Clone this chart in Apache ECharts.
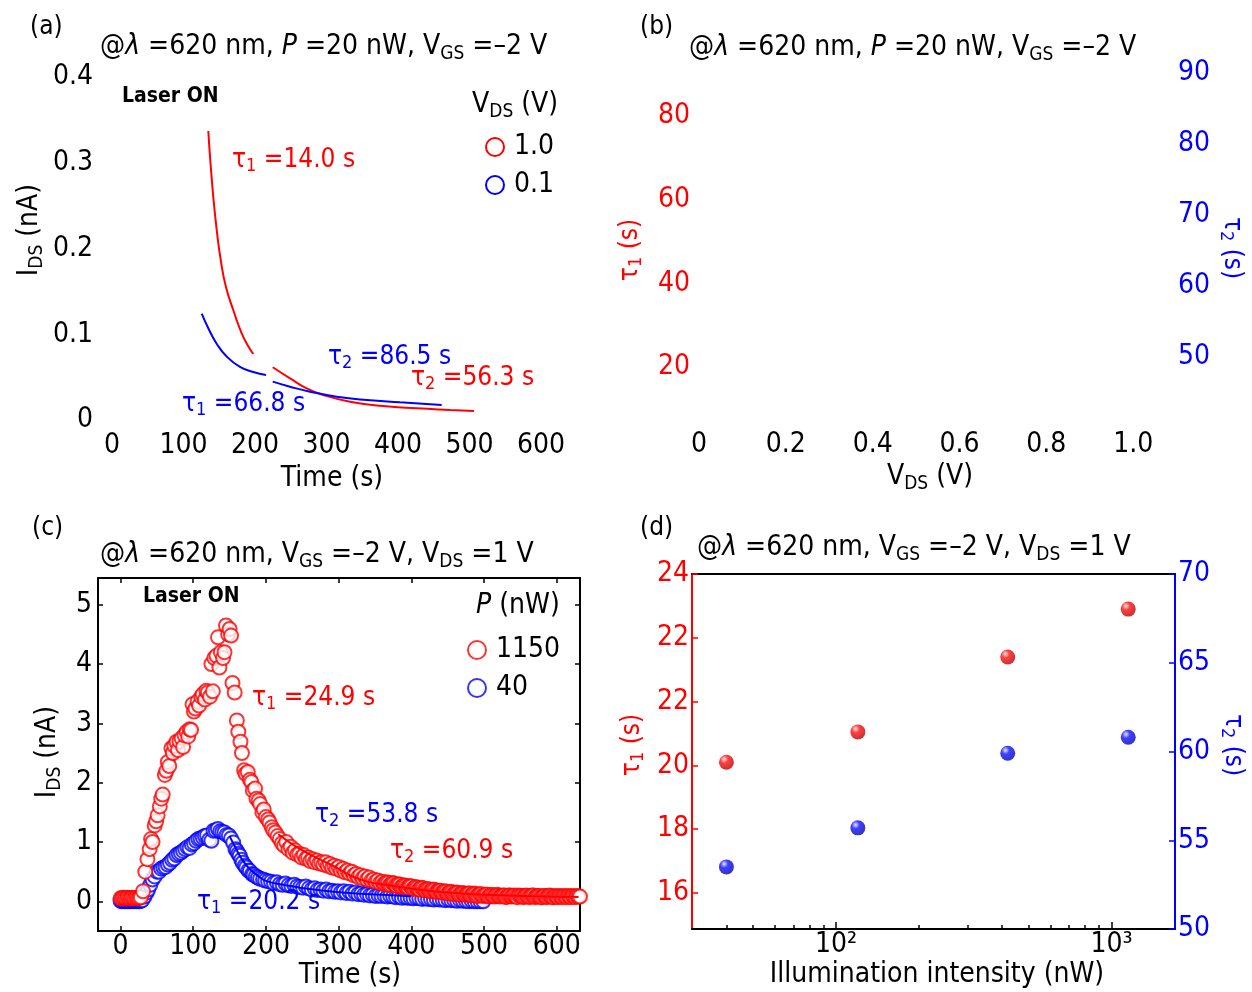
<!DOCTYPE html>
<html>
<head>
<meta charset="utf-8">
<script src="https://cdn.jsdelivr.net/npm/echarts@6/dist/echarts.min.js"></script>
<style>
  html, body { margin: 0; padding: 0; background: #fff; }
  #main { width: 1252px; height: 992px; }
</style>
</head>
<body>
<div id="main"></div>
<script>
// ---- (a) decay fits, I_DS vs time ----
var aRedFastT = [134.7, 137.1, 141.7, 146.4, 152.0, 159.4, 169.7, 181.4, 190.6, 197.6];
var aRedFastI = [0.337, 0.307, 0.260, 0.222, 0.187, 0.155, 0.128, 0.101, 0.086, 0.077];
var aRedSlowT = [224.8, 249.0, 272.3, 295.5, 332.9, 379.4, 426.2, 472.7, 506.3];
var aRedSlowI = [0.0615, 0.0486, 0.0369, 0.0292, 0.0213, 0.0163, 0.0136, 0.0117, 0.0105];
var aBlueFastT = [125.5, 134.7, 146.4, 160.4, 179.0, 197.6, 215.4];
var aBlueFastI = [0.124, 0.107, 0.089, 0.074, 0.062, 0.056, 0.0525];
var aBlueSlowT = [224.8, 249.0, 276.9, 314.3, 356.2, 402.8, 461.1];
var aBlueSlowI = [0.0447, 0.0388, 0.0330, 0.0272, 0.0233, 0.0206, 0.0175];

// ---- (b) empty tau vs V_DS frame ----
var bXTicks = [0, 0.2, 0.4, 0.6, 0.8, 1.0];
var bTau1Ticks = [20, 40, 60, 80];
var bTau2Ticks = [50, 60, 70, 80, 90];

// ---- (c) transient photocurrent, [time s, I_DS nA] ----
var cRed1150 = [
  [0,0.05],[2,0.05],[4,0.06],[6,0.05],[8,0.05],[10,0.06],[12,0.05],[14,0.05],[16,0.06],[18,0.05],
  [20,0.05],[22,0.06],[24,0.05],[26,0.06],[28,0.07],[31,0.17],[34,0.5],[37,0.71],[40,0.88],[42,1.05],
  [44,1.0],[47,1.28],[49,1.35],[51,1.45],[54,1.6],[56,1.73],[58,1.8],[61,2.13],[63,2.2],[65,2.35],
  [67,2.28],[70,2.58],[72,2.5],[74,2.62],[77,2.69],[79,2.55],[81,2.7],[84,2.75],[86,2.6],[88,2.8],
  [91,2.86],[93,2.78],[95,2.9],[97,2.89],[99,3.32],[101,3.2],[103,3.25],[106,3.37],[108,3.3],[111,3.45],
  [113,3.49],[116,3.4],[118,3.55],[120,3.52],[123,3.45],[125,4.0],[127,3.54],[129,4.1],[132,4.14],[134,4.45],
  [136,3.94],[138,4.2],[141,4.1],[143,4.2],[145,4.65],[148,4.5],[150,4.59],[152,4.48],[154,3.68],[157,3.52],
  [160,3.05],[162,2.86],[165,2.69],[167,2.5],[170,2.21],[172,2.15],[175,2.18],[178,2.05],[180,2.01],[182,1.87],
  [185,1.9],[187,1.73],[190,1.7],[192,1.64],[195,1.5],[197,1.55],[200,1.42],[203,1.38],[205,1.33],[208,1.25],
  [210,1.2],[213,1.16],[216,1.1],[219,1.05],[222,0.98],[225,0.94],[228,1.0],[231,0.88],[234,0.92],[237,0.82],
  [240,0.86],[243,0.79],[246,0.8],[249,0.74],[252,0.78],[255,0.72],[258,0.74],[261,0.68],[264,0.71],[267,0.66],
  [270,0.69],[273,0.64],[276,0.66],[279,0.62],[282,0.66],[285,0.6],[288,0.63],[291,0.57],[294,0.6],[297,0.55],
  [300,0.58],[303,0.52],[306,0.55],[309,0.49],[312,0.52],[315,0.47],[318,0.5],[321,0.44],[324,0.46],[327,0.41],
  [330,0.44],[333,0.39],[336,0.42],[339,0.37],[342,0.4],[345,0.35],[348,0.37],[351,0.33],[354,0.35],[357,0.31],
  [360,0.33],[362,0.29],[364,0.3],[366,0.32],[368,0.31],[370,0.27],[372,0.28],[374,0.31],[376,0.3],[378,0.27],
  [380,0.26],[382,0.29],[384,0.28],[386,0.24],[388,0.25],[390,0.27],[392,0.26],[394,0.23],[396,0.23],[398,0.26],
  [400,0.25],[402,0.21],[404,0.22],[406,0.24],[408,0.23],[410,0.2],[412,0.2],[414,0.23],[416,0.22],[418,0.19],
  [420,0.19],[422,0.21],[424,0.2],[426,0.17],[428,0.18],[430,0.2],[432,0.19],[434,0.16],[436,0.16],[438,0.18],
  [440,0.18],[442,0.15],[444,0.15],[446,0.17],[448,0.16],[450,0.13],[452,0.14],[454,0.16],[456,0.15],[458,0.12],
  [460,0.13],[462,0.15],[464,0.14],[466,0.11],[468,0.12],[470,0.14],[472,0.13],[474,0.11],[476,0.12],[478,0.13],
  [480,0.13],[482,0.1],[484,0.11],[486,0.13],[488,0.12],[490,0.09],[492,0.1],[494,0.12],[496,0.12],[498,0.09],
  [500,0.1],[502,0.11],[504,0.11],[506,0.08],[508,0.09],[510,0.11],[512,0.1],[514,0.08],[516,0.09],[518,0.11],
  [520,0.1],[522,0.08],[524,0.09],[526,0.1],[528,0.1],[530,0.07],[532,0.08],[534,0.1],[536,0.1],[538,0.08],
  [540,0.09],[542,0.1],[544,0.08],[546,0.07],[548,0.1],[550,0.09],[552,0.09],[554,0.07],[556,0.08],[558,0.1],
  [560,0.09],[562,0.07],[564,0.08],[566,0.1],[568,0.1],[570,0.07],[572,0.08],[574,0.09],[576,0.09],[578,0.07],
  [580,0.07],[582,0.09],[584,0.09],[586,0.07],[588,0.08],[590,0.1],[592,0.09],[594,0.07],[596,0.07],[598,0.09],
  [600,0.08],[602,0.07],[604,0.09],[606,0.08],[608,0.07],[610,0.09],[612,0.08],[614,0.07],[616,0.09],[618,0.08],
  [620,0.07],[622,0.09],[624,0.08],[626,0.07],[628,0.09],[630,0.08],[632,0.08]
];
var cBlue40 = [
  [0,0.01],[2,0.0],[4,0.01],[6,0.0],[8,0.01],[10,0.0],[12,0.01],[14,0.0],[16,0.01],[18,0.0],
  [20,0.01],[22,0.0],[24,0.01],[26,0.0],[28,0.01],[30,0.02],[33,0.08],[36,0.15],[38,0.2],[41,0.28],
  [44,0.37],[47,0.42],[50,0.5],[53,0.5],[56,0.55],[59,0.57],[62,0.58],[65,0.62],[68,0.65],[71,0.7],
  [74,0.72],[77,0.78],[80,0.8],[83,0.82],[86,0.85],[89,0.88],[92,0.91],[95,0.9],[98,0.96],[101,0.98],
  [104,1.02],[107,1.05],[110,1.06],[113,1.08],[116,1.1],[119,1.11],[122,1.04],[125,1.02],[128,1.19],[131,1.2],
  [134,1.22],[137,1.18],[140,1.17],[143,1.16],[146,1.12],[149,1.11],[152,1.06],[155,0.99],[158,0.88],[160,0.85],
  [162,0.8],[164,0.77],[166,0.7],[168,0.65],[171,0.6],[173,0.57],[176,0.52],[178,0.51],[181,0.46],[183,0.45],
  [186,0.42],[189,0.4],[192,0.38],[196,0.37],[199,0.35],[203,0.34],[207,0.33],[211,0.31],[215,0.32],[219,0.29],
  [223,0.28],[227,0.3],[231,0.27],[235,0.26],[239,0.28],[243,0.25],[247,0.24],[251,0.23],[255,0.25],[259,0.22],
  [263,0.2],[267,0.22],[271,0.19],[275,0.2],[279,0.18],[283,0.2],[287,0.17],[291,0.18],[295,0.16],[299,0.17],
  [303,0.15],[307,0.17],[311,0.14],[315,0.16],[319,0.13],[323,0.15],[327,0.12],[331,0.13],[335,0.11],[339,0.12],
  [343,0.1],[347,0.11],[351,0.09],[355,0.1],[359,0.09],[363,0.1],[367,0.08],[371,0.09],[375,0.08],[379,0.07],
  [383,0.08],[387,0.06],[391,0.07],[395,0.06],[399,0.06],[403,0.05],[407,0.06],[411,0.05],[415,0.04],[419,0.05],
  [423,0.04],[427,0.04],[431,0.03],[435,0.04],[439,0.03],[443,0.03],[447,0.02],[451,0.03],[455,0.02],[459,0.02],
  [463,0.01],[467,0.02],[471,0.01],[475,0.01],[479,0.0],[483,0.01],[487,0.0],[491,0.0],[495,0.0],[499,0.0]
];
var cFitRedT = [217, 247, 292, 329, 375, 430, 499, 630];
var cFitRedI = [1.13, 0.88, 0.60, 0.37, 0.26, 0.17, 0.11, 0.075];
var cFitBlueT = [150, 157, 164, 171, 178, 190, 201, 224, 247, 280, 315, 360, 400];
var cFitBlueI = [1.1, 0.93, 0.77, 0.64, 0.54, 0.42, 0.34, 0.28, 0.23, 0.18, 0.14, 0.11, 0.085];
var cXTicks = [0, 100, 200, 300, 400, 500, 600];
var cYTicks = [0, 1, 2, 3, 4, 5];

// ---- (d) tau vs illumination power ----
var dPower = [40, 120, 420, 1150];
var dTau1 = [20.1, 21.05, 23.4, 24.9];
var dTau2 = [53.5, 55.7, 59.9, 60.8];
var dTau1TickValues = [16, 18, 20, 22, 24, 26];
var dTau1TickLabels = ['16', '18', '20', '22', '22', '24'];
var dMajor = [100, 1000];
var dMajorLabels = ['10²', '10³'];
var dMinor = [40, 50, 60, 70, 80, 90, 200, 300, 400, 500, 600, 700, 800, 900];

var RED = '#ff0000', BLUE = '#0000ff';
var FONT = '"DejaVu Sans Condensed","DejaVu Sans",sans-serif';

var zip = function (xs, ys) {
    return xs.map(function (x, i) { return [x, ys[i]]; });
};

// text with sub/italic markup
var T = function (x, y, text, opt) {
    opt = opt || {};
    var size = opt.size || 28, color = opt.color || '#000';
    var lh = Math.round(size * 1.2);
    return {
        type: 'text', x: x, y: y, rotation: opt.rot || 0, silent: true, z: 100,
        style: {
            text: text, fill: color, fontSize: size, fontFamily: FONT,
            fontWeight: opt.bold ? 'bold' : 'normal',
            align: opt.align || 'left', verticalAlign: 'middle', lineHeight: lh,
            rich: {
                s: {fontSize: Math.round(size * 0.68), fill: color, fontFamily: FONT, verticalAlign: 'bottom', lineHeight: Math.round(size * 0.6)},
                i: {fontSize: size, fill: color, fontFamily: FONT, fontStyle: 'italic', lineHeight: lh}
            }
        }
    };
};

var noAxis = {show: false};
var lbl = function (color, size, margin, extra) {
    var o = {color: color, fontSize: size, fontFamily: FONT, margin: margin};
    for (var k in extra) { o[k] = extra[k]; }
    return o;
};
var fix1 = function (v) { return v === 0 ? '0' : v.toFixed(1); };
var frameLine = function (c) { return {onZero: false, lineStyle: {color: c, width: 2}}; };
var inTick = function (c, len, vals) {
    var o = {inside: true, length: len, lineStyle: {color: c, width: 1.5}};
    if (vals) { o.customValues = vals; }
    return o;
};

var ball = function (c1, c2, c3) {
    return {type: 'radial', x: 0.35, y: 0.3, r: 0.75, colorStops: [
        {offset: 0, color: c1}, {offset: 0.35, color: c2}, {offset: 1, color: c3}]};
};
var fitLine = function (name, color, data, xi, yi) {
    return {name: name, type: 'line', xAxisIndex: xi, yAxisIndex: yi, data: data,
        smooth: true, showSymbol: false, color: color, lineStyle: {color: color, width: 2}, z: 5};
};

var myChart = echarts.init(document.getElementById('main'), null, {renderer: 'canvas'});

var legendBase = {
    orient: 'vertical', icon: 'emptyCircle', itemWidth: 18, itemHeight: 18, itemGap: 10,
    selectedMode: false, itemStyle: {borderWidth: 2},
    textStyle: {fontSize: 28, color: '#000', fontFamily: FONT, padding: [0, 0, 0, 5]}
};

var option = {
    animation: false,
    backgroundColor: '#fff',
    grid: [
        {left: 112, top: 77, width: 429, height: 343},
        {left: 694, top: 60, width: 480, height: 365},
        {left: 98, top: 578, width: 482, height: 353},
        {left: 692, top: 574, width: 483, height: 355}
    ],
    legend: [
        echarts.util.merge({data: ['1.0', '0.1'], left: 480, top: 128}, legendBase),
        echarts.util.merge({data: ['1150', '40'], left: 462, top: 631}, legendBase)
    ],
    xAxis: [
        // (a)
        {gridIndex: 0, type: 'value', min: 0, max: 600, interval: 100,
            axisLine: noAxis, axisTick: noAxis, splitLine: noAxis,
            axisLabel: lbl('#000', 28, 12)},
        // (b)
        {gridIndex: 1, type: 'value', min: -0.0115, max: 1.094,
            axisLine: noAxis, axisTick: noAxis, splitLine: noAxis,
            axisLabel: lbl('#000', 28, 6, {customValues: bXTicks, formatter: fix1})},
        // (c) bottom
        {gridIndex: 2, type: 'value', min: -31, max: 632, splitLine: noAxis,
            axisLine: frameLine('#000'), axisTick: inTick('#000', 5, cXTicks),
            axisLabel: lbl('#000', 28, 2, {customValues: cXTicks})},
        // (c) top
        {gridIndex: 2, type: 'value', position: 'top', min: -31, max: 632, splitLine: noAxis,
            axisLine: frameLine('#000'), axisTick: inTick('#000', 5, cXTicks), axisLabel: noAxis},
        // (d) bottom, major
        {gridIndex: 3, type: 'log', logBase: 10, min: 30, max: 1700, splitLine: noAxis,
            axisLine: frameLine('#000'), axisTick: inTick('#000', 7, dMajor),
            axisLabel: lbl('#000', 28, 2, {customValues: dMajor, formatter: function (v) {
                return dMajorLabels[dMajor.indexOf(Math.round(v))] || '';
            }})},
        // (d) bottom, minor ticks
        {gridIndex: 3, type: 'log', logBase: 10, min: 30, max: 1700, position: 'bottom', splitLine: noAxis,
            axisLine: noAxis, axisTick: inTick('#000', 4, dMinor), axisLabel: noAxis},
        // (d) top frame
        {gridIndex: 3, type: 'log', logBase: 10, min: 30, max: 1700, position: 'top', splitLine: noAxis,
            axisLine: frameLine('#000'), axisTick: noAxis, axisLabel: noAxis}
    ],
    yAxis: [
        // (a)
        {gridIndex: 0, type: 'value', min: 0, max: 0.4, interval: 0.1,
            axisLine: noAxis, axisTick: noAxis, splitLine: noAxis,
            axisLabel: lbl('#000', 28, 19, {formatter: fix1})},
        // (b) left
        {gridIndex: 1, type: 'value', min: 6.13, max: 93.4,
            axisLine: noAxis, axisTick: noAxis, splitLine: noAxis,
            axisLabel: lbl(RED, 28, 4, {customValues: bTau1Ticks})},
        // (b) right
        {gridIndex: 1, type: 'value', position: 'right', min: 40.42, max: 91.83,
            axisLine: noAxis, axisTick: noAxis, splitLine: noAxis,
            axisLabel: lbl(BLUE, 28, 4, {customValues: bTau2Ticks})},
        // (c) left
        {gridIndex: 2, type: 'value', min: -0.5, max: 5.45, splitLine: noAxis,
            axisLine: frameLine('#000'), axisTick: inTick('#000', 5, cYTicks),
            axisLabel: lbl('#000', 28, 6, {customValues: cYTicks})},
        // (c) right
        {gridIndex: 2, type: 'value', position: 'right', min: -0.5, max: 5.45, splitLine: noAxis,
            axisLine: frameLine('#000'), axisTick: inTick('#000', 5, cYTicks), axisLabel: noAxis},
        // (d) left, tau1
        {gridIndex: 3, type: 'value', min: 14.87, max: 26, splitLine: noAxis,
            axisLine: frameLine(RED), axisTick: inTick(RED, 6, dTau1TickValues),
            axisLabel: lbl(RED, 28, 3, {customValues: dTau1TickValues, formatter: function (v) {
                return dTau1TickLabels[dTau1TickValues.indexOf(Math.round(v))];
            }})},
        // (d) right, tau2
        {gridIndex: 3, type: 'value', position: 'right', min: 50, max: 70, interval: 5, splitLine: noAxis,
            axisLine: frameLine(BLUE), axisTick: inTick(BLUE, 6), axisLabel: lbl(BLUE, 28, 3)}
    ],
    series: [
        // (a)
        fitLine('1.0', RED, zip(aRedFastT, aRedFastI), 0, 0),
        fitLine('1.0', RED, zip(aRedSlowT, aRedSlowI), 0, 0),
        fitLine('0.1', BLUE, zip(aBlueFastT, aBlueFastI), 0, 0),
        fitLine('0.1', BLUE, zip(aBlueSlowT, aBlueSlowI), 0, 0),
        // (c)
        {name: '40', type: 'scatter', xAxisIndex: 2, yAxisIndex: 3, data: cBlue40,
            symbol: 'emptyCircle', symbolSize: 14, color: BLUE,
            itemStyle: {color: BLUE, borderColor: BLUE, borderWidth: 1.2}},
        {name: '1150', type: 'scatter', xAxisIndex: 2, yAxisIndex: 3, data: cRed1150,
            symbol: 'emptyCircle', symbolSize: 14, color: RED,
            itemStyle: {color: RED, borderColor: RED, borderWidth: 1.2}},
        fitLine('fit 40', BLUE, zip(cFitBlueT, cFitBlueI), 2, 3),
        fitLine('fit 1150', RED, zip(cFitRedT, cFitRedI), 2, 3),
        // (d)
        {name: 'tau1', type: 'scatter', xAxisIndex: 4, yAxisIndex: 5, data: zip(dPower, dTau1),
            symbolSize: 15, itemStyle: {color: ball('#ffe0e0', '#ff1010', '#b00000')}},
        {name: 'tau2', type: 'scatter', xAxisIndex: 4, yAxisIndex: 6, data: zip(dPower, dTau2),
            symbolSize: 15, itemStyle: {color: ball('#e0e0ff', '#1010ff', '#0000b0')}}
    ],
    graphic: [
        // (a)
        T(30, 27, '(a)', {size: 26}),
        T(100, 47, '@{i|λ} =620 nm, {i|P} =20 nW, V{s|GS} =–2 V'),
        T(122, 97, 'Laser ON', {size: 21, bold: true}),
        T(232, 160, 'τ{s|1} =14.0 s', {size: 26, color: RED}),
        T(328, 357, 'τ{s|2} =86.5 s', {size: 26, color: BLUE}),
        T(411, 378, 'τ{s|2} =56.3 s', {size: 26, color: RED}),
        T(182, 404, 'τ{s|1} =66.8 s', {size: 26, color: BLUE}),
        T(472, 105, 'V{s|DS} (V)'),
        T(30, 230, 'I{s|DS} (nA)', {rot: Math.PI / 2, align: 'center'}),
        T(332, 479, 'Time (s)', {align: 'center'}),
        // (b)
        T(640, 27, '(b)', {size: 26}),
        T(689, 48, '@{i|λ} =620 nm, {i|P} =20 nW, V{s|GS} =–2 V'),
        T(630, 250, 'τ{s|1} (s)', {rot: Math.PI / 2, align: 'center', color: RED, size: 26}),
        T(1232, 248, 'τ{s|2} (s)', {rot: -Math.PI / 2, align: 'center', color: BLUE, size: 26}),
        T(930, 477, 'V{s|DS} (V)', {align: 'center'}),
        // (c)
        T(32, 528, '(c)', {size: 26}),
        T(100, 555, '@{i|λ} =620 nm, V{s|GS} =–2 V, V{s|DS} =1 V'),
        T(143, 597, 'Laser ON', {size: 21, bold: true}),
        T(476, 606, '{i|P} (nW)'),
        T(252, 698, 'τ{s|1} =24.9 s', {size: 26, color: RED}),
        T(315, 815, 'τ{s|2} =53.8 s', {size: 26, color: BLUE}),
        T(390, 851, 'τ{s|2} =60.9 s', {size: 26, color: RED}),
        T(197, 902, 'τ{s|1} =20.2 s', {size: 26, color: BLUE}),
        T(48, 752, 'I{s|DS} (nA)', {rot: Math.PI / 2, align: 'center'}),
        T(350, 976, 'Time (s)', {align: 'center'}),
        // (d)
        T(640, 528, '(d)', {size: 26}),
        T(697, 548, '@{i|λ} =620 nm, V{s|GS} =–2 V, V{s|DS} =1 V'),
        T(632, 745, 'τ{s|1} (s)', {rot: Math.PI / 2, align: 'center', color: RED, size: 26}),
        T(1233, 745, 'τ{s|2} (s)', {rot: -Math.PI / 2, align: 'center', color: BLUE, size: 26}),
        T(937, 975, 'Illumination intensity (nW)', {align: 'center'})
    ]
};
myChart.setOption(option);
</script>
</body>
</html>
